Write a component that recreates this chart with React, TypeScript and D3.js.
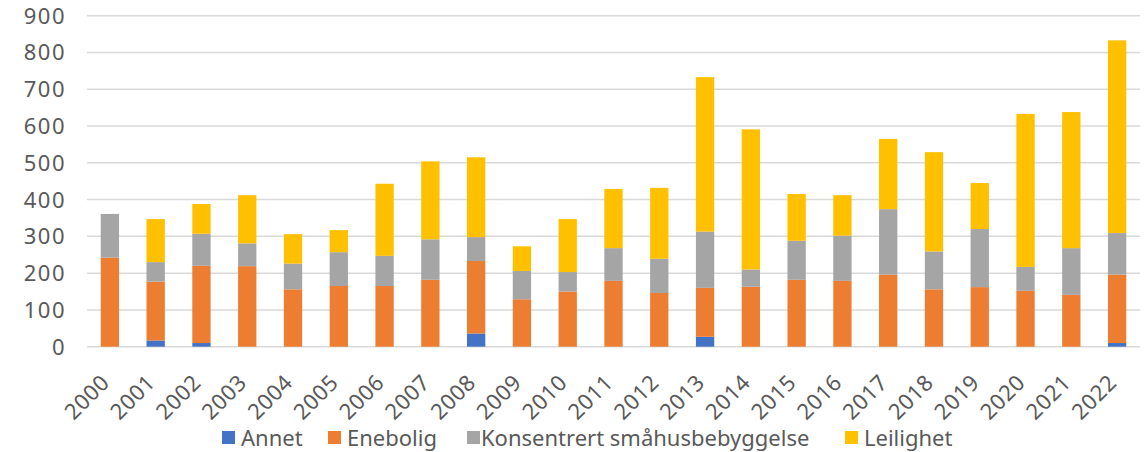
import React from "react";
import * as d3 from "d3";

const years = ["2000","2001","2002","2003","2004","2005","2006","2007","2008","2009","2010","2011","2012","2013","2014","2015","2016","2017","2018","2019","2020","2021","2022"];
const annet =       [0, 17, 10, 0, 0, 0, 0, 0, 36, 0, 0, 0, 0, 27, 0, 0, 0, 0, 0, 0, 0, 0, 10];
const enebolig =    [242, 160, 210, 219, 156, 165, 165, 182, 197, 129, 150, 179, 146, 133, 163, 182, 179, 196, 156, 162, 152, 141, 186];
const konsentrert = [119, 53, 87, 62, 70, 92, 82, 110, 65, 77, 53, 89, 93, 153, 47, 106, 123, 178, 103, 158, 65, 127, 113];
const leilighet =   [0, 117, 81, 131, 80, 60, 196, 212, 217, 67, 144, 161, 193, 420, 381, 127, 110, 191, 270, 125, 416, 370, 524];
const yTicks = [0, 100, 200, 300, 400, 500, 600, 700, 800, 900];

const seriesNames = ["Annet", "Enebolig", "Konsentrert småhusbebyggelse", "Leilighet"];
const colors = ["#4472C4", "#ED7D31", "#A5A5A5", "#FFC000"];

export default function App() {
  const W = 1147, H = 452;
  const left = 87, right = 1140, top = 15.7, bottom = 346.7;
  const x = d3.scaleBand<string>().domain(years).range([left, right]).paddingInner(0.6).paddingOuter(0.3);
  const y = d3.scaleLinear().domain([0, 900]).range([bottom, top]);

  const rows = years.map((yr, i) => ({
    year: yr,
    Annet: annet[i],
    Enebolig: enebolig[i],
    "Konsentrert småhusbebyggelse": konsentrert[i],
    Leilighet: leilighet[i],
  }));
  const stacked = d3.stack<any>().keys(seriesNames)(rows);

  const font = "'Noto Sans', sans-serif";
  const textColor = "#595959";

  const legendItems = [
    { name: "Annet", sx: 222, tx: 241 },
    { name: "Enebolig", sx: 328, tx: 347 },
    { name: "Konsentrert småhusbebyggelse", sx: 467, tx: 481 },
    { name: "Leilighet", sx: 845, tx: 864 },
  ];

  return (
    <svg width={W} height={H} style={{ position: "absolute", left: 0, top: 0, background: "#fff" }} fontFamily={font}>
      {yTicks.map((t) => (
        <g key={t}>
          <line x1={left} x2={right} y1={y(t)} y2={y(t)} stroke="#D9D9D9" strokeWidth={1.5} />
          <text x={66} y={y(t)} dy="0.36em" textAnchor="end" fontSize={22} fill={textColor} letterSpacing={1.5}>{t}</text>
        </g>
      ))}
      {stacked.map((s, si) => (
        <g key={s.key} fill={colors[si]}>
          {s.map((d, i) => {
            const h = y(d[0]) - y(d[1]);
            if (h <= 0) return null;
            return <rect key={i} x={x(years[i])!} width={x.bandwidth()} y={y(d[1])} height={h} />;
          })}
        </g>
      ))}
      {years.map((yr) => {
        const cx = x(yr)! + x.bandwidth() / 2 - 10;
        const cy = 373;
        return (
          <text key={yr} x={cx} y={cy} textAnchor="end" fontSize={22} fill={textColor} transform={`rotate(-45 ${cx} ${cy})`} dy="0.7em" letterSpacing={0.5}>{yr}</text>
        );
      })}
      {legendItems.map((l, i) => (
        <g key={l.name}>
          <rect x={l.sx} y={431} width={13} height={13} fill={colors[i]} />
          <text x={l.tx} y={446} fontSize={22} fill={textColor}>{l.name}</text>
        </g>
      ))}
    </svg>
  );
}
